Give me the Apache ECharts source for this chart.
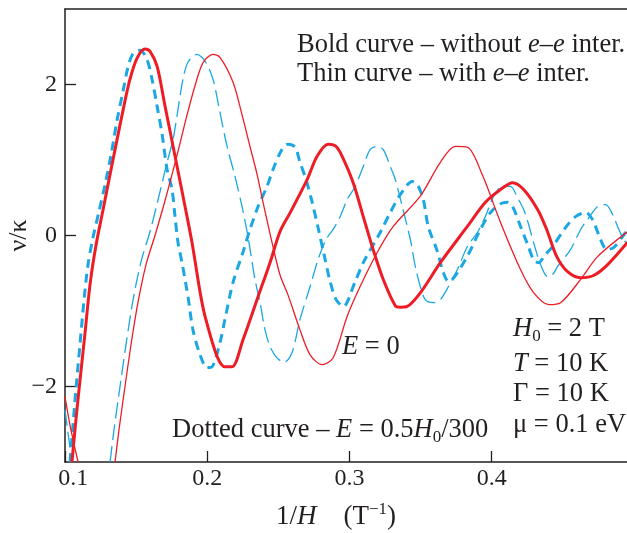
<!DOCTYPE html>
<html>
<head>
<meta charset="utf-8">
<script src="https://cdn.jsdelivr.net/npm/echarts@6/dist/echarts.min.js"></script>
<style>
html, body { margin: 0; padding: 0; background: #fff; }
#chart { width: 627px; height: 533px; }
</style>
</head>
<body>
<div id="chart"></div>
<script>
// ---- data: [1/H (T^-1), nu/kappa] ----
var xTicks = [0.1, 0.2, 0.3, 0.4];
var yTicks = [-2, 0, 2];

// bold red: without e-e interaction, E = 0
var boldRed = [
    [0.1048, -3.0], [0.1076, -2.44], [0.1105, -1.91], [0.1140, -1.29], [0.1175, -0.65],
    [0.1217, -0.13], [0.1267, 0.345], [0.1316, 0.81], [0.1365, 1.27], [0.1414, 1.72],
    [0.1456, 2.07], [0.1506, 2.35], [0.1562, 2.47], [0.1597, 2.44], [0.1647, 2.24],
    [0.1703, 1.71], [0.1773, 1.05], [0.1829, 0.52], [0.1892, -0.09], [0.1949, -0.75],
    [0.1984, -1.07], [0.2068, -1.60], [0.2124, -1.74], [0.2174, -1.74], [0.2251, -1.38],
    [0.2357, -0.81], [0.2441, -0.36], [0.2511, 0.05], [0.2582, 0.30], [0.2702, 0.74],
    [0.2772, 1.05], [0.2850, 1.21], [0.2900, 1.19], [0.2935, 1.10], [0.3026, 0.70],
    [0.3097, 0.25], [0.3167, -0.19], [0.3237, -0.58], [0.3322, -0.93], [0.3357, -0.95],
    [0.3406, -0.94], [0.3498, -0.76], [0.3639, -0.36], [0.3829, 0.12], [0.3956, 0.44],
    [0.4063, 0.61], [0.4147, 0.70], [0.4225, 0.61], [0.4323, 0.345], [0.4387, 0.08],
    [0.4458, -0.28], [0.4534, -0.48], [0.4626, -0.56], [0.4717, -0.53], [0.4816, -0.385],
    [0.4956, -0.09]
];

// thin red: with e-e interaction, E = 0
var thinRedLeft = [[0.0999, -2.135], [0.1034, -2.51], [0.1091, -3.0]];
var thinRed = [
    [0.1351, -3.0], [0.1379, -2.57], [0.1421, -2.0], [0.1463, -1.45], [0.1512, -0.89],
    [0.1569, -0.385], [0.1632, 0.0], [0.1695, 0.41], [0.1759, 0.86], [0.1808, 1.22],
    [0.1858, 1.60], [0.1913, 1.98], [0.1970, 2.29], [0.2040, 2.40], [0.2089, 2.36],
    [0.2181, 2.03], [0.2244, 1.60], [0.2300, 1.18], [0.2350, 0.81], [0.2392, 0.44],
    [0.2455, -0.09], [0.2511, -0.52], [0.2568, -0.79], [0.2652, -1.25], [0.2723, -1.58],
    [0.2807, -1.71], [0.2885, -1.62], [0.2984, -1.07], [0.3074, -0.68], [0.3195, -0.225],
    [0.3308, 0.12], [0.3498, 0.52], [0.3639, 0.97], [0.3745, 1.18], [0.3829, 1.17],
    [0.3935, 0.80], [0.4063, 0.17], [0.4203, -0.45], [0.4295, -0.756], [0.4401, -0.915],
    [0.4485, -0.89], [0.4626, -0.58], [0.4745, -0.28], [0.4956, 0.05]
];

// bold dashed blue: without e-e interaction, E = 0.5 H0 / 300
var boldBlue = [
    [0.1034, -3.0], [0.1055, -2.51], [0.1076, -2.04], [0.1105, -1.43], [0.1133, -0.85],
    [0.1161, -0.385], [0.1196, -0.027], [0.1238, 0.318], [0.1281, 0.676], [0.1323, 1.07],
    [0.1365, 1.525], [0.1407, 1.91], [0.1442, 2.23], [0.1478, 2.41], [0.1527, 2.454],
    [0.1576, 2.33], [0.1611, 2.07], [0.1647, 1.71], [0.1682, 1.34], [0.1717, 0.875],
    [0.1752, 0.61], [0.1773, 0.25], [0.1794, -0.093], [0.1822, -0.36], [0.1864, -0.81],
    [0.1899, -1.25], [0.1949, -1.58], [0.1998, -1.75], [0.2033, -1.74], [0.2089, -1.42],
    [0.2124, -1.11], [0.2181, -0.62], [0.2251, -0.22], [0.2300, 0.08], [0.2357, 0.385],
    [0.2420, 0.65], [0.2462, 0.875], [0.2525, 1.14], [0.2568, 1.21], [0.2617, 1.17],
    [0.2652, 0.97], [0.2694, 0.743], [0.2736, 0.451], [0.2779, 0.106], [0.2821, -0.252],
    [0.2864, -0.61], [0.2906, -0.849], [0.2956, -0.94], [0.3040, -0.61], [0.3097, -0.36],
    [0.3216, 0.04], [0.3287, 0.305], [0.3357, 0.54], [0.3442, 0.716], [0.3477, 0.676],
    [0.3519, 0.477], [0.3554, 0.12], [0.3618, -0.21], [0.3660, -0.49], [0.3696, -0.61],
    [0.3815, -0.32], [0.3921, 0.08], [0.3992, 0.305], [0.4063, 0.42], [0.4112, 0.44],
    [0.4147, 0.385], [0.4203, 0.12], [0.4253, -0.12], [0.4295, -0.32], [0.4330, -0.36],
    [0.4379, -0.25], [0.4429, -0.146], [0.4520, 0.106], [0.4590, 0.25], [0.4661, 0.305],
    [0.4710, 0.21], [0.4766, -0.053], [0.4809, -0.186], [0.4858, -0.16], [0.4921, -0.013],
    [0.4956, 0.08]
];

// thin dashed blue: with e-e interaction, E = 0.5 H0 / 300
var thinBlueLeft = [[0.0999, -2.31], [0.1027, -2.71], [0.1048, -3.0]];
var thinBlue = [
    [0.1316, -3.0], [0.1344, -2.57], [0.1386, -2.0], [0.1428, -1.446], [0.1478, -0.849],
    [0.1534, -0.345], [0.1597, 0.053], [0.1654, 0.477], [0.1717, 0.968], [0.1759, 1.273],
    [0.1794, 1.671], [0.1829, 2.069], [0.1864, 2.294], [0.1927, 2.40], [0.1984, 2.31],
    [0.2040, 2.07], [0.2089, 1.63], [0.2139, 1.18], [0.2195, 0.78], [0.2244, 0.385],
    [0.2286, -0.013], [0.2335, -0.58], [0.2371, -0.89], [0.2406, -1.25], [0.2441, -1.47],
    [0.2490, -1.62], [0.2540, -1.68], [0.2596, -1.55], [0.2652, -1.11], [0.2723, -0.676],
    [0.2779, -0.318], [0.2835, -0.053], [0.2885, 0.08], [0.2935, 0.252], [0.2984, 0.477],
    [0.3040, 0.65], [0.3097, 0.915], [0.3146, 1.14], [0.3195, 1.18], [0.3237, 1.14],
    [0.3287, 0.915], [0.3322, 0.743], [0.3371, 0.385], [0.3428, -0.053], [0.3463, -0.41],
    [0.3498, -0.676], [0.3533, -0.849], [0.3590, -0.889], [0.3639, -0.849], [0.3696, -0.676],
    [0.3759, -0.451], [0.3829, -0.146], [0.3900, 0.04], [0.3956, 0.252], [0.4013, 0.517],
    [0.4076, 0.65], [0.4133, 0.65], [0.4182, 0.50], [0.4225, 0.345], [0.4260, 0.146],
    [0.4295, -0.093], [0.4344, -0.385], [0.4394, -0.544], [0.4429, -0.517], [0.4464, -0.41],
    [0.4555, -0.186], [0.4626, 0.08], [0.4675, 0.212], [0.4745, 0.385], [0.4802, 0.41],
    [0.4851, 0.279], [0.4886, 0.119], [0.4928, -0.053], [0.4956, -0.12]
];

var serif = 'Liberation Serif';
var ink = '#231f20';
var red = '#ee1c25';
var blue = '#1aa7e3';

var chart = echarts.init(document.getElementById('chart'));

// rich styles shared by the annotations
var rich = {
    r: { fontFamily: serif, fontSize: 26.5, fill: ink, color: ink },
    i: { fontFamily: serif, fontSize: 26.5, fontStyle: 'italic', fill: ink, color: ink },
    sub: { fontFamily: serif, fontSize: 17, fill: ink, color: ink, padding: [14, 0, 0, 0] },
    m: { fontFamily: serif, fontSize: 24, fill: ink, color: ink, padding: [0, 0, 0, 16] },
    n: { fontFamily: serif, fontSize: 24, fill: ink, color: ink }
};

function note(left, top, text) {
    return { type: 'text', left: left, top: top, style: { text: text, rich: rich, font: '26px ' + serif } };
}

function lineSeries(data, color, width, dash) {
    return {
        type: 'line', data: data, showSymbol: false, smooth: 0.3, silent: true,
        lineStyle: { color: color, width: width, type: dash || 'solid' }
    };
}

var axisLine = { onZero: false, lineStyle: { color: ink, width: 1.5 } };

option = {
    animation: false,
    backgroundColor: '#fff',
    grid: { left: 65, top: 9, right: 0, bottom: 71, containLabel: false, outerBoundsMode: 'none' },
    xAxis: [{
        type: 'value', min: 0.0999, max: 0.4952, position: 'bottom',
        axisLine: axisLine,
        splitLine: { show: false },
        axisTick: { inside: true, length: 11, customValues: xTicks, lineStyle: { color: ink, width: 1.3 } },
        axisLabel: {
            customValues: xTicks, margin: 5, fontFamily: serif, fontSize: 24, color: ink,
            formatter: function (v) {
                return v < 0.15 ? '{m|' + v.toFixed(1) + '}' : '{n|' + v.toFixed(1) + '}';
            },
            rich: rich
        },
        name: '{n|1/}{ni|H}{n|    (T}{sup|−1}{n|)}',
        nameLocation: 'middle', nameGap: 39, nameMoveOverlap: false,
        nameTextStyle: {
            padding: [0, 20, 0, 0],
            rich: {
                n: { fontFamily: serif, fontSize: 27, color: ink },
                ni: { fontFamily: serif, fontSize: 27, color: ink, fontStyle: 'italic' },
                sup: { fontFamily: serif, fontSize: 17, color: ink, padding: [0, 0, 14, 0] }
            }
        }
    }, {
        type: 'value', min: 0.0999, max: 0.4952, position: 'top',
        axisLine: axisLine, axisTick: { show: false }, axisLabel: { show: false },
        splitLine: { show: false }
    }],
    yAxis: {
        type: 'value', min: -3, max: 3,
        axisLine: axisLine,
        splitLine: { show: false },
        axisTick: { inside: true, length: 11, customValues: yTicks, lineStyle: { color: ink, width: 1.3 } },
        axisLabel: {
            customValues: yTicks, margin: 8, fontFamily: serif, fontSize: 24, color: ink,
            formatter: function (v) { return v < 0 ? '\u2212' + Math.abs(v) : String(v); }
        },
        name: 'ν/κ', nameLocation: 'middle', nameRotate: 90, nameGap: 33, nameMoveOverlap: false,
        nameTextStyle: { fontFamily: serif, fontSize: 26, color: ink }
    },
    series: [
        lineSeries(thinBlueLeft, blue, 1.3, [16, 6]),
        lineSeries(thinBlue, blue, 1.3, [16, 6]),
        lineSeries(boldBlue, blue, 3, [9, 6]),
        lineSeries(thinRedLeft, red, 1.3),
        lineSeries(thinRed, red, 1.3),
        lineSeries(boldRed, red, 3)
    ],
    graphic: [
        note(297, 32, '{r|Bold curve – without }{i|e–e}{r| inter.}'),
        note(297, 61, '{r|Thin curve – with }{i|e–e}{r| inter.}'),
        note(342, 334, '{i|E}{r| = 0}'),
        note(513, 316, '{i|H}{sub|0}{r| = 2 T}'),
        note(513, 351, '{i|T}{r| = 10 K}'),
        note(513, 381, '{r|Γ = 10 K}'),
        note(513, 412, '{r|μ = 0.1 eV}'),
        note(172, 417, '{r|Dotted curve – }{i|E}{r| = 0.5}{i|H}{sub|0}{r|/300}')
    ]
};

chart.setOption(option);
</script>
</body>
</html>
